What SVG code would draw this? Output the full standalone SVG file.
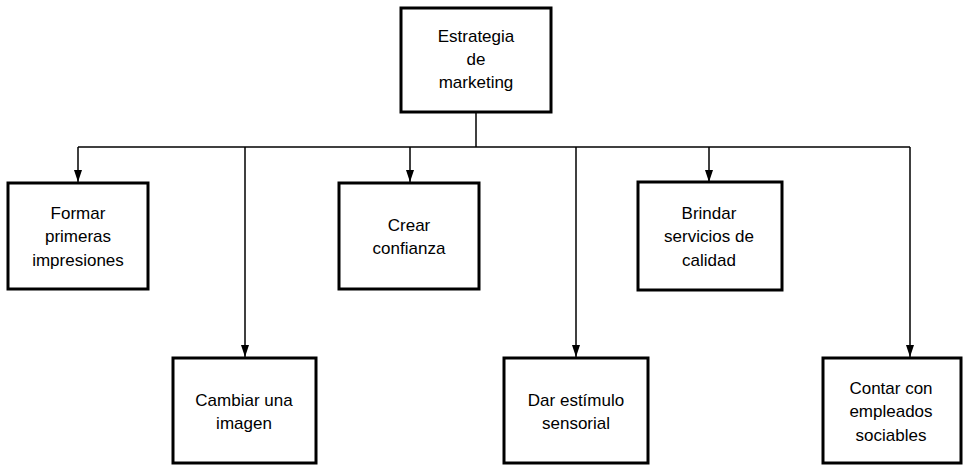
<svg xmlns="http://www.w3.org/2000/svg" width="963" height="465" viewBox="0 0 963 465">
<style>
.box{fill:#fff;stroke:#000;stroke-width:3}
.t{font-family:"Liberation Sans",Arial,sans-serif;font-size:17px;fill:#000;text-anchor:middle}
.c{fill:none;stroke:#000;stroke-width:1.5}
</style>
<defs>
<marker id="arr" viewBox="0 0 12 8" refX="12" refY="4" markerWidth="12" markerHeight="8" markerUnits="userSpaceOnUse" orient="auto">
<path d="M0,0 L12,4 L0,8 Z" fill="#000"/>
</marker>
</defs>
<rect width="963" height="465" fill="#fff"/>
<g id="connectors">
<path class="c" d="M476,113 V147"/>
<path class="c" d="M78,147 H910"/>
<path class="c" d="M78,147 V182" marker-end="url(#arr)"/>
<path class="c" d="M245,147 V357" marker-end="url(#arr)"/>
<path class="c" d="M410,147 V182" marker-end="url(#arr)"/>
<path class="c" d="M576,147 V357" marker-end="url(#arr)"/>
<path class="c" d="M709,147 V182" marker-end="url(#arr)"/>
<path class="c" d="M910,147 V357" marker-end="url(#arr)"/>
</g>
<g id="n0">
<rect class="box" x="401" y="8" width="150" height="104"/>
<text class="t" x="476" y="42">Estrategia</text>
<text class="t" x="476" y="65">de</text>
<text class="t" x="476" y="88">marketing</text>
</g>
<g id="n1">
<rect class="box" x="8" y="183" width="140" height="106"/>
<text class="t" x="78" y="219">Formar</text>
<text class="t" x="78" y="242">primeras</text>
<text class="t" x="78" y="266">impresiones</text>
</g>
<g id="n2">
<rect class="box" x="339" y="183" width="140" height="106"/>
<text class="t" x="409" y="231">Crear</text>
<text class="t" x="409" y="254">confianza</text>
</g>
<g id="n3">
<rect class="box" x="638" y="182" width="144" height="108"/>
<text class="t" x="709" y="219">Brindar</text>
<text class="t" x="709" y="242">servicios de</text>
<text class="t" x="709" y="266">calidad</text>
</g>
<g id="n4">
<rect class="box" x="173" y="358" width="143" height="105"/>
<text class="t" x="244" y="406">Cambiar una</text>
<text class="t" x="244" y="429">imagen</text>
</g>
<g id="n5">
<rect class="box" x="504" y="358" width="144" height="105"/>
<text class="t" x="576" y="406">Dar estímulo</text>
<text class="t" x="576" y="429">sensorial</text>
</g>
<g id="n6">
<rect class="box" x="823" y="358" width="138" height="105"/>
<text class="t" x="891" y="394">Contar con</text>
<text class="t" x="891" y="417">empleados</text>
<text class="t" x="891" y="441">sociables</text>
</g>
</svg>
